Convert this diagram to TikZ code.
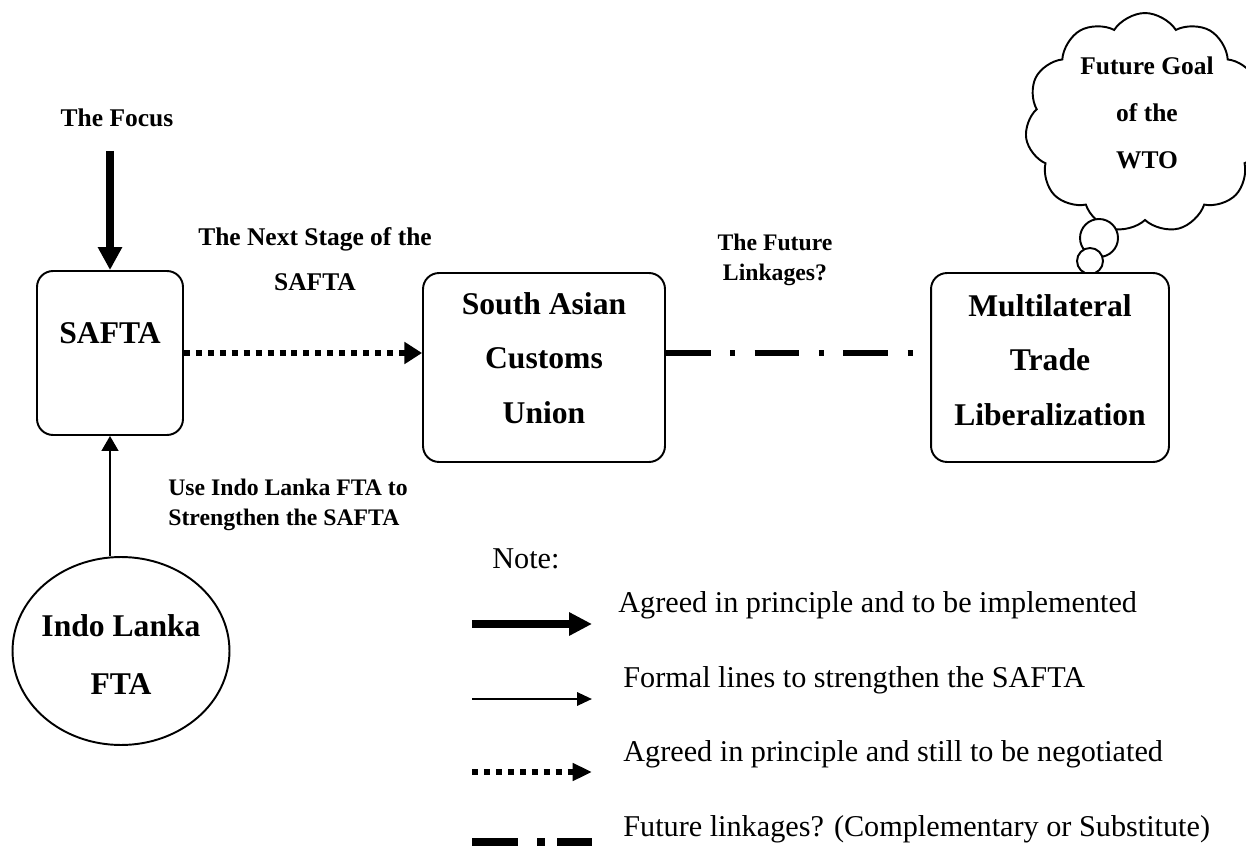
\documentclass[tikz,border=0pt]{standalone}
\usepackage{fontspec}
\setmainfont{Liberation Serif}
\usetikzlibrary{arrows.meta,positioning,shapes.geometric,shapes.symbols}

\begin{document}
\begin{tikzpicture}[
  x=0.02cm, y=-0.02cm,
  box/.style={draw, rounded corners=0.32cm, line width=1.1pt, fill=white},
  boxtxt/.style={align=center, font=\fontsize{18}{31}\selectfont\bfseries},
  lbl/.style={align=center, font=\fontsize{14.5}{26}\selectfont\bfseries},
  note/.style={anchor=west, inner xsep=0pt, font=\fontsize{17.2}{20}\selectfont},
  bigarr/.style={line width=4pt, -{Triangle[length=13pt,width=13pt]}},
  thinarr/.style={line width=1.2pt, -{Triangle[length=8.5pt,width=9.5pt]}},
  dotarr/.style={line width=3pt, dash pattern=on 3.4pt off 3.4pt, -{Triangle[length=10pt,width=12pt]}},
  dashdot/.style={line width=3.6pt, dash pattern=on 25.5pt off 11pt on 3pt off 11pt}
]
\useasboundingbox (0,0) rectangle (1246,847);

% thought cloud
\node[cloud, draw, line width=1.1pt, fill=white, cloud puffs=11, cloud puff arc=115,
  aspect=1.05, minimum width=4.8cm, minimum height=4.4cm] (goal) at (1145,123) {};
\node[lbl, font=\fontsize{14.5}{26.6}\selectfont\bfseries] (goal-t) at (1147,113) {Future Goal\\of the\\WTO};
\node[circle, draw, line width=1.1pt, fill=white, minimum size=0.76cm, inner sep=0pt] (bubA) at (1099,238) {};
\node[circle, draw, line width=1.1pt, fill=white, minimum size=0.52cm, inner sep=0pt] (bubB) at (1090,261) {};

% boxes
\node[box, minimum width=2.92cm, minimum height=3.28cm] (safta) at (110,353) {};
\node[boxtxt] (safta-t) at (110,333) {SAFTA};
\node[box, minimum width=4.84cm, minimum height=3.78cm] (sacu) at (544,367.5) {};
\node[boxtxt] (sacu-t) at (544,358) {South Asian\\Customs\\Union};
\node[box, minimum width=4.76cm, minimum height=3.78cm] (mtl) at (1050,367.5) {};
\node[boxtxt] (mtl-t) at (1050,360) {Multilateral\\Trade\\Liberalization};
\node[ellipse, draw, line width=1.1pt, inner sep=0pt, minimum width=4.34cm, minimum height=3.76cm] (ilfta) at (121,651) {};
\node[boxtxt, font=\fontsize{18}{33}\selectfont\bfseries] (ilfta-t) at (121,655) {Indo Lanka\\FTA};

% labels
\node[lbl] (focus) at (117,118) {The Focus};
\node[lbl] (nextstage) at (315,259) {The Next Stage of the\\SAFTA};
\node[lbl, font=\fontsize{13.5}{17}\selectfont\bfseries] (futlink) at (775,260) {The Future\\Linkages?};
\node[lbl, anchor=west, align=left, inner xsep=0pt, font=\fontsize{13.5}{17}\selectfont\bfseries] (useindo) at (168,505) {Use Indo Lanka FTA to\\Strengthen the SAFTA};

% connectors
\draw[bigarr, shorten <=10pt] (focus.south -| safta.north) -- (safta.north);
\draw[thinarr] (ilfta.north -| safta.south) -- (safta.south);
\draw[dotarr] (safta.east) -- (safta.east -| sacu.west);
\draw[dashdot] (sacu.east |- safta.east) -- (mtl.west |- safta.east);

% legend
\node[note] (notehead) at (492,559) {Note:};
\coordinate (k1a) at (472,624); \coordinate (k1b) at (592,624);
\coordinate (k2a) at (472,699); \coordinate (k2b) at (592,699);
\coordinate (k3a) at (472,772); \coordinate (k3b) at (592,772);
\coordinate (k4a) at (472,842); \coordinate (k4b) at (592,842);
\draw[line width=4.5pt, -{Triangle[length=13pt,width=12.5pt]}] (k1a) -- (k1b);
\draw[line width=1.5pt, -{Triangle[length=8.5pt,width=7.5pt]}] (k2a) -- (k2b);
\draw[line width=3.4pt, dash pattern=on 3.4pt off 3.4pt, -{Triangle[length=11pt,width=9.6pt]}] (k3a) -- (k3b);
\draw[line width=4.2pt, dash pattern=on 26pt off 11pt on 4.5pt off 7pt] (k4a) -- (k4b);
\node[note] (key1) at (618,605) {Agreed in principle and to be implemented};
\node[note] (key2) at (623,680) {Formal lines to strengthen the SAFTA};
\node[note] (key3) at (623,754) {Agreed in principle and still to be negotiated};
\node[note] (key4) at (623,829) {Future linkages? (Complementary or Substitute)};
\end{tikzpicture}
\end{document}
